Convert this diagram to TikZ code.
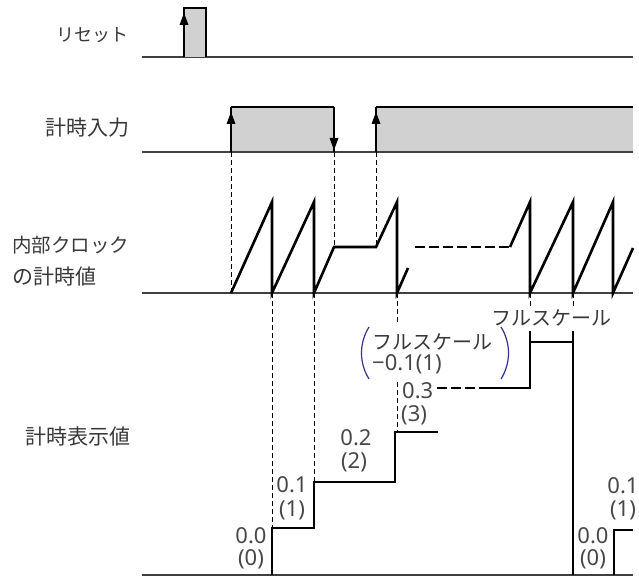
\documentclass[tikz,border=0pt]{standalone}
\usepackage{fontspec}
\setmainfont{Noto Sans CJK JP}
\newfontfamily\numfont{Noto Sans}
\usetikzlibrary{arrows.meta}
\begin{document}
\begin{tikzpicture}[x=1pt,y=-1pt,
  wave/.style={line width=2.6pt, line join=miter},
  base/.style={line width=1.8pt, draw=black!75},
  guide/.style={line width=1pt, dash pattern=on 5pt off 3pt},
  bigdash/.style={line width=2.6pt, dash pattern=on 10pt off 4pt},
  edge/.style={line width=1.5pt},
  lbl/.style={font=\fontsize{21}{23}\selectfont, text=black!78, inner sep=0pt},
  num/.style={font=\numfont\fontsize{22}{24}\selectfont, text=black!72, inner sep=0pt},
  head/.style={fill=black},
  hi/.style={fill=black!18},
  paren/.style={line width=1.2pt, draw=black!55!blue!80}
]
\useasboundingbox (0,0) rectangle (639,580);

% ---------- labels ----------
\node[lbl, anchor=east, font=\fontsize{18}{20}\selectfont] (lreset) at (129,35) {リセット};
\node[lbl, anchor=east] (linput) at (130,128) {計時入力};
\node[lbl, anchor=west, font=\fontsize{19.5}{21}\selectfont] (lclk1) at (12,245) {内部クロック};
\node[lbl, anchor=west] (lclk2) at (12,277) {の計時値};
\node[lbl, anchor=east] (ldisp) at (131,437) {計時表示値};

% ---------- reset ----------
\draw[base] (142,57) -- (633,57);
\path[hi] (184,8) rectangle (206,57);
\draw[line width=1.8pt] (184,57) |- (206,8) -- (206,57);
\fill[head] (184,13) -- (179.5,25) -- (188.5,25) -- cycle;

% ---------- timing input ----------
\path[hi] (231,107) rectangle (334,152);
\path[hi] (376,107) rectangle (633,152);
\draw[base] (142,152) -- (633,152);
\draw[edge] (231,152) -- (231,107);
\draw[wave] (231,107) -- (334,107);
\draw[edge] (334,107) -- (334,152);
\draw[edge] (376,152) -- (376,107);
\draw[wave] (376,107) -- (633,107);
\fill[head] (231,112) -- (226.5,124) -- (235.5,124) -- cycle;
\fill[head] (334,150) -- (329.5,138) -- (338.5,138) -- cycle;
\fill[head] (376,112) -- (371.5,124) -- (380.5,124) -- cycle;

% guides input -> clock
\draw[guide] (231,152) -- (231,293);
\draw[guide] (334,152) -- (334,247);
\draw[guide] (376,152) -- (376,247);

% ---------- internal clock ----------
\draw[base] (142,293) -- (633,293);
\draw[wave] (231,293) -- (272,202) -- (272,293) -- (314,202) -- (314,293)
  -- (334,247) -- (376,247) -- (397,202) -- (397,293) -- (408,268);
\draw[bigdash] (415,247) -- (510,247);
\draw[wave] (510,247) -- (530,202) -- (530,293) -- (573,202) -- (573,293)
  -- (613,202) -- (613,293) -- (633,248);

% guides clock -> display
\draw[guide] (272,293) -- (272,528);
\draw[guide] (314,293) -- (314,482);
\draw[guide] (397,293) -- (397,322);
\draw[guide] (397,382) -- (397,432);
\draw[guide] (530,293) -- (530,306);
\draw[guide] (573,293) -- (573,306);
\draw[edge] (530,331) -- (530,342);
\draw[edge] (573,331) -- (573,342);

% ---------- display ----------
\draw[base] (142,575) -- (633,575);
\draw[wave] (272,575) -- (272,528) -- (314,528) -- (314,482) -- (395,482)
  -- (395,432) -- (438,432);
\draw[bigdash] (437,388) -- (482,388);
\draw[wave] (480,388) -- (530,388) -- (530,342) -- (573,342) -- (573,575);
\draw[wave] (614,575) -- (614,530) -- (633,530);

% ---------- value labels ----------
\node[lbl, font=\fontsize{20}{22}\selectfont] (fs) at (551,318) {フルスケール};
\node[lbl, anchor=west, font=\fontsize{20}{22}\selectfont] (fs1) at (372,342) {フルスケール};
\node[num, anchor=west] (fs2) at (372,364) {−0.1(1)};
\draw[paren] (369,327) .. controls (359,343) and (359,363) .. (369,379);
\draw[paren] (501,327) .. controls (511,343) and (511,363) .. (501,379);

\node[num, anchor=west] (v3) at (402,391) {0.3};
\node[num, anchor=west] (c3) at (401,415) {(3)};
\node[num] (v2) at (356,438) {0.2};
\node[num] (c2) at (354,462) {(2)};
\node[num] (v1) at (292,485) {0.1};
\node[num] (c1) at (292,510) {(1)};
\node[num] (v0) at (251,536) {0.0};
\node[num] (c0) at (251,559) {(0)};
\node[num] (rv0) at (593,536) {0.0};
\node[num] (rc0) at (593,559) {(0)};
\node[num] (rv1) at (623,486) {0.1};
\node[num] (rc1) at (623,510) {(1)};
\end{tikzpicture}
\end{document}
